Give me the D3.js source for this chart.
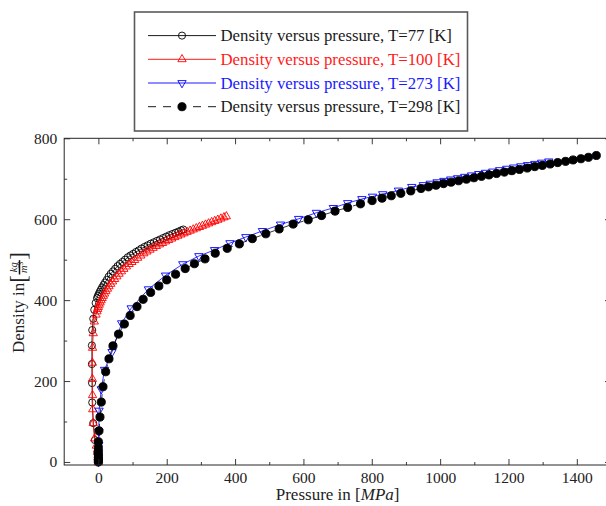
<!DOCTYPE html>
<html><head><meta charset="utf-8">
<script src="https://cdn.jsdelivr.net/npm/d3@7"></script>
<style>
body{margin:0;background:#fff}
svg{display:block}
text{font-family:"Liberation Serif","Times New Roman",serif}
</style>
</head><body>
<svg id="c" width="606" height="506"></svg>
<script>
// ---------- data (pressure [MPa], density [kg/m^3]) ----------
const legendLabels = [
  "Density versus pressure, T=77 [K]",
  "Density versus pressure, T=100 [K]",
  "Density versus pressure, T=273 [K]",
  "Density versus pressure, T=298 [K]"
];
const xMajorTicks = [0,200,400,600,800,1000,1200,1400];
const xMinorTicks = [100,300,500,700,900,1100,1300,1500];
const yMajorTicks = [0,200,400,600,800];
const yMinorTicks = [100,300,500,700];

const t77 = [[0,0],[0,5],[-0.5,12],[-3,25],[-10,54],[-15,96],[-18,147],[-18.5,195],[-19,242],[-19,288],[-18,326],[-15,354],[-12,376],[-8,393],[-4,405],
 [-1.5,410],[1,415],[4,420.5],[7.5,426],[11,431.5],[15,437.5],[19.5,443.5],[24.5,450],[30,458],[36,465],[42.5,471],[49,477.5],[56,484],[63,489.5],[70.5,494.5],
 [78,500],[86,506],[94,510.5],[102,514.5],[110,519],[118,523],[126,527.5],[135,531.5],[144,535.5],[153,539.5],[162.5,543],[171.5,546.5],[180.5,550],[189.5,553.5],
 [198.5,557],[207.5,560.5],[216.5,563.5],[225.5,566.5],[234.5,569.5],[242.5,572.5],[248.5,574.5]];

const t100 = [[0,0],[0,5],[-0.5,12],[-2.5,25],[-6,40],[-11,58],[-15,96],[-16.5,130],[-17,165],[-17.5,205],[-17.5,245],[-17,282],[-15,318],[-12,347],[-7,364],
 [-4,372],[-2,378],[0,383],[2.5,388.5],[5,394],[8,399.5],[11,405],[14.5,410.5],[18,416],[22,422],[26.5,428],[31,434],[36,440],[41.5,446],[47.5,452],[54,458.5],
 [60.5,465],[67.5,471],[74.5,477],[82,483],[90,489],[98,494],[106,499],[115,504.5],[124,510],[133,515.5],[142,520],[151,524.5],[160,529],[169.5,533.5],[178.5,537.5],
 [187.5,541],[196.5,545],[205.5,548.5],[214.5,552],[223.5,555.5],[232.5,559],[241.5,562],[250.5,565],[259.5,568.5],[268.5,571.5],[277.5,574.5],[286.5,577.5],
 [295.5,580.5],[304.5,583.5],[313.5,586.5],[322.5,589.5],[331.5,592.5],[340.5,595.5],[349.5,598.5],[358.5,601.5],[367.5,604.5],[374.5,607]];

const t273 = [[0,0],[0,5],[0,12],[0.5,24],[1,42],[1.5,75],[2,127],[8.5,180],[18,228],[40,272],[68,343],[96,380],[146.5,427],[196.5,461],[247,489],[294,509],
 [340,524],[385,541],[431.5,556],[480,571],[533,587],[586,601],[638,616],[687.5,628],[729.5,640],[771,650],[802,656],[832,662],[878,671],[917,680],
 [951,684.5],[971,688],[991,691.5],[1011,695],[1031,698.5],[1051,701.5],[1072,705],[1092,708.5],[1113,712],[1133,715],[1154,718],[1174,721.5],[1195,725],
 [1215,728],[1236,731],[1256,734],[1277,737],[1297,740],[1318,743]];

const t298 = [[0,0],[0,3],[0,7],[0,12],[0,18],[0,25],[0,36],[0,50],[1.8,77],[4.7,111],[8.5,148],[13.5,186],[21.4,223],[31,255],[42.7,287],[59,316],[76,341],
 [93,362],[113,384],[131,402],[153,419],[177,435],[200,450],[226,464],[254,478],[281,490],[312,502],[342,516],[377,528],[412.5,539],[450.5,552],[490,564],
 [529,576],[570,588],[614,598.6],[653,609],[692.5,620],[729.5,629],[767,638],[801,646],[830,652],[857,658],[885,664],[914,670],
 [944,676],[966,680],[988,684],[1010,688],[1032,691.5],[1054,695],[1077,699],[1099,702.5],[1121,706],[1143,709.5],[1165,713],[1188,716.5],[1210,720],
 [1232,723],[1255,726.5],[1277,730],[1299,733],[1322,736.5],[1344,740],[1367,743],[1389,746.5],[1412,749.5],[1434,753],[1457,757.5]];

// ---------- scales ----------
const svg = d3.select("#c");
const x = d3.scaleLinear().domain([-100,1500]).range([64.2,611]);
const y = d3.scaleLinear().domain([-7.5,800]).range([465,138.3]);

const symCircle = d3.symbol(d3.symbolCircle, 40)();
const symDot = d3.symbol(d3.symbolCircle, 52)();
const symTri = d3.symbol(d3.symbolTriangle, 30)();

const series = [
  {data:t77,  color:"#000000", dash:null,  sym:symCircle, fill:"none",   rot:false, text:"#1a1a1a"},
  {data:t100, color:"#ff0000", dash:null,  sym:symTri,    fill:"none",   rot:false, text:"#ff1a1a"},
  {data:t273, color:"#0000ff", dash:null,  sym:symTri,    fill:"none",   rot:true,  text:"#1a1aff"},
  {data:t298, color:"#000000", dash:"8,7", sym:symDot,    fill:"#000000",rot:false, text:"#1a1a1a"}
];

// ---------- plot ----------
const plot = svg.append("g");
const line = d3.line().x(d=>x(d[0])).y(d=>y(d[1]));
series.forEach(s=>{
  plot.append("path").attr("d", line(s.data)).attr("fill","none")
    .attr("stroke", s.color).attr("stroke-width",0.8)
    .attr("stroke-dasharray", s.dash);
  plot.append("g").selectAll("path").data(s.data).join("path")
    .attr("d", s.sym)
    .attr("transform", d=>`translate(${x(d[0])},${y(d[1])})` + (s.rot?" rotate(180)":""))
    .attr("fill", s.fill).attr("stroke", s.color).attr("stroke-width",0.9);
});

// ---------- axes ----------
function styleAxis(g){
  g.select(".domain").remove();
  g.selectAll(".tick line").attr("stroke","#262626").attr("stroke-width",0.9);
  g.selectAll("text").attr("font-family","'Liberation Serif',serif").attr("font-size",15.5).attr("fill","#222");
  g.attr("font-family",null).attr("font-size",null);
}
const fmt = d3.format("d");
svg.append("g").attr("transform","translate(0,465)")
  .call(d3.axisBottom(x).tickValues(xMajorTicks).tickSize(-6).tickPadding(7).tickFormat(fmt)).call(styleAxis);
svg.append("g").attr("transform","translate(0,465)")
  .call(d3.axisBottom(x).tickValues(xMinorTicks).tickSize(-3).tickFormat("")).call(styleAxis);
svg.append("g").attr("transform","translate(0,138.3)")
  .call(d3.axisTop(x).tickValues(xMajorTicks).tickSize(-6).tickFormat("")).call(styleAxis);
svg.append("g").attr("transform","translate(0,138.3)")
  .call(d3.axisTop(x).tickValues(xMinorTicks).tickSize(-3).tickFormat("")).call(styleAxis);
svg.append("g").attr("transform","translate(64.2,0)")
  .call(d3.axisLeft(y).tickValues(yMajorTicks).tickSize(-6).tickPadding(7).tickFormat(fmt)).call(styleAxis);
svg.append("g").attr("transform","translate(64.2,0)")
  .call(d3.axisLeft(y).tickValues(yMinorTicks).tickSize(-3).tickFormat("")).call(styleAxis);
svg.append("g").attr("transform","translate(611,0)")
  .call(d3.axisRight(y).tickValues(yMajorTicks).tickSize(-6).tickFormat("")).call(styleAxis);
svg.append("g").attr("transform","translate(611,0)")
  .call(d3.axisRight(y).tickValues(yMinorTicks).tickSize(-3).tickFormat("")).call(styleAxis);

svg.append("rect").attr("x",64.2).attr("y",138.3).attr("width",611-64.2).attr("height",465-138.3)
  .attr("fill","none").attr("stroke","#262626").attr("stroke-width",1);

// x label
const xl = svg.append("text").attr("x",(64.2+611)/2).attr("y",499.5).attr("text-anchor","middle")
  .attr("font-size",17).attr("fill","#222");
xl.append("tspan").text("Pressure in [");
xl.append("tspan").attr("font-style","italic").text("MPa");
xl.append("tspan").text("]");

// y label (rotated)
const yl = svg.append("g").attr("transform","translate(24,302.5) rotate(-90)");
const part1 = yl.append("text").attr("font-size",17).attr("fill","#222").text("Density in ");
const w1 = part1.node().getComputedTextLength();
const lb = yl.append("text").attr("font-size",23).attr("fill","#222").attr("y",2).text("[");
const wb = lb.node().getComputedTextLength();
const num = yl.append("text").attr("font-size",10.5).attr("font-style","italic").attr("fill","#222").attr("y",-7).attr("text-anchor","middle").text("kg");
const den = yl.append("text").attr("font-size",10.5).attr("font-style","italic").attr("fill","#222").attr("y",3).attr("text-anchor","middle");
den.append("tspan").text("m");
den.append("tspan").attr("font-size",7.5).attr("dy",-4).attr("font-style","normal").text("3");
const wf = Math.max(num.node().getComputedTextLength(), den.node().getComputedTextLength()) + 3;
const rb = yl.append("text").attr("font-size",23).attr("fill","#222").attr("y",2).text("]");
const total = w1 + wb + wf + 1 + wb;
let cx = -total/2;
part1.attr("x",cx); cx += w1;
lb.attr("x",cx); cx += wb;
num.attr("x",cx+wf/2+0.5); den.attr("x",cx+wf/2+0.5);
yl.append("line").attr("x1",cx+0.5).attr("x2",cx+wf+0.5).attr("y1",-4.5).attr("y2",-4.5).attr("stroke","#111").attr("stroke-width",1.5);
cx += wf + 1;
rb.attr("x",cx);

// ---------- legend ----------
const lg = svg.append("g");
lg.append("rect").attr("x",134.5).attr("y",12).attr("width",333).attr("height",119)
  .attr("fill","#fff").attr("stroke","#5a5a5a").attr("stroke-width",1.6);
series.forEach((s,i)=>{
  const ry = 35.6 + i*23.7;
  lg.append("line").attr("x1",148).attr("x2",216).attr("y1",ry).attr("y2",ry)
    .attr("stroke",s.color).attr("stroke-width",0.9).attr("stroke-dasharray",s.dash);
  lg.append("path").attr("d",s.sym).attr("transform",`translate(182,${ry})`+(s.rot?" rotate(180)":""))
    .attr("fill",s.fill).attr("stroke",s.color).attr("stroke-width",0.9);
  lg.append("text").attr("x",220.5).attr("y",ry+5.5).attr("font-size",16.8).attr("fill",s.text).text(legendLabels[i]);
});
</script>
</body></html>
